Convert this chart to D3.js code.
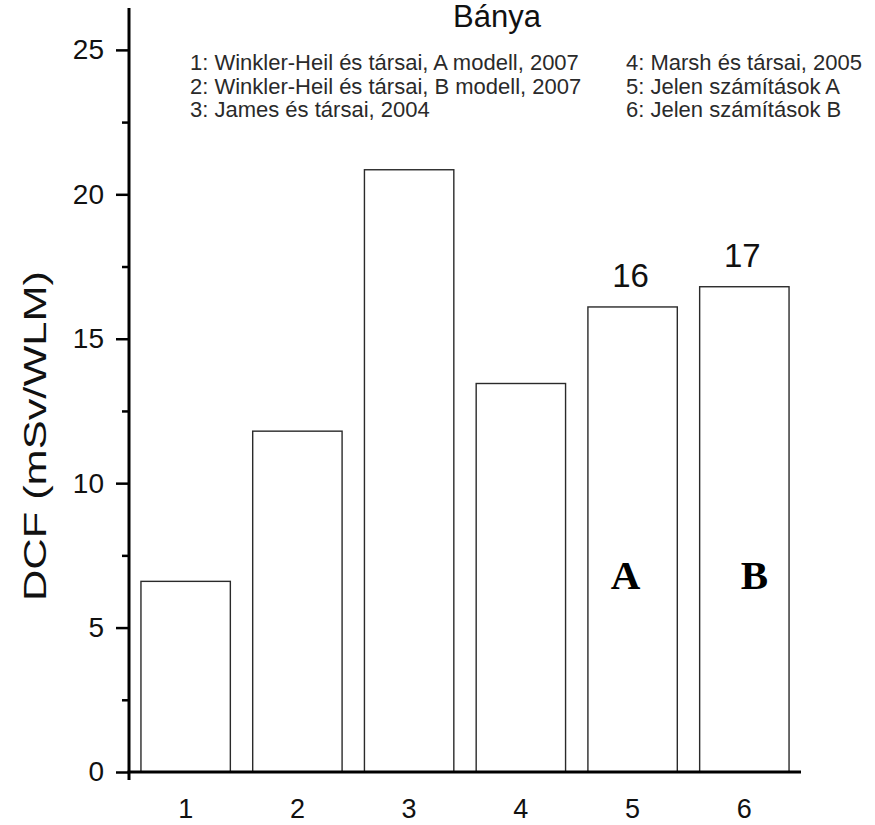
<!DOCTYPE html>
<html>
<head>
<meta charset="utf-8">
<script src="https://cdn.jsdelivr.net/npm/d3@7"></script>
<style>
  html, body { margin: 0; padding: 0; background: #fff; }
  svg { display: block; font-family: "Liberation Sans", Arial, sans-serif; }
</style>
</head>
<body>
<svg id="chart" width="875" height="825"></svg>
<script>
// Dose conversion factors for mine conditions
const categories = ["1", "2", "3", "4", "5", "6"];
const dcfValues = [6.6, 11.8, 20.85, 13.45, 16.1, 16.8];
const labelledBars = ["5", "6"];           // bars that carry a value label
const barLetters = [{ cat: "5", text: "A", dx: -7 }, { cat: "6", text: "B", dx: 10 }];
const majorTicks = [0, 5, 10, 15, 20, 25];
const minorTicks = [2.5, 7.5, 12.5, 17.5, 22.5];
const legendCol1 = [
  "1: Winkler-Heil és társai, A modell, 2007",
  "2: Winkler-Heil és társai, B modell, 2007",
  "3: James és társai, 2004"
];
const legendCol2 = [
  "4: Marsh és társai, 2005",
  "5: Jelen számítások A",
  "6: Jelen számítások B"
];
const title = "Bánya";
const yTitle = "DCF (mSv/WLM)";

const svg = d3.select("#chart");
const plot = { left: 129, right: 801, top: 8, bottom: 772 };

const x = d3.scaleBand()
  .domain(categories)
  .range([plot.left, plot.right])
  .paddingInner(0.2)
  .paddingOuter(0.107);

const y = d3.scaleLinear()
  .domain([0, 26.45])
  .range([plot.bottom, plot.top]);

const rows = categories.map((c, i) => ({ cat: c, v: dcfValues[i] }));

// Bars
svg.append("g")
  .selectAll("rect")
  .data(rows)
  .join("rect")
  .attr("x", d => x(d.cat))
  .attr("y", d => y(d.v))
  .attr("width", x.bandwidth())
  .attr("height", d => y(0) - y(d.v))
  .attr("fill", "#fff")
  .attr("stroke", "#2a2a2a")
  .attr("stroke-width", 1.4);

// Value labels above bars 5 and 6
const fmt = d3.format(".0f");
svg.append("g")
  .selectAll("text")
  .data(rows.filter(d => labelledBars.includes(d.cat)))
  .join("text")
  .attr("x", d => x(d.cat) + x.bandwidth() / 2 - 2)
  .attr("y", d => y(d.v) - 20)
  .attr("text-anchor", "middle")
  .attr("font-size", 33)
  .attr("fill", "#111")
  .text(d => fmt(d.v));

// Letters inside bars 5 and 6
svg.append("g")
  .selectAll("text")
  .data(barLetters)
  .join("text")
  .attr("x", d => x(d.cat) + x.bandwidth() / 2 + d.dx)
  .attr("y", y(6.35))
  .attr("text-anchor", "middle")
  .attr("font-family", "'Liberation Serif', 'Times New Roman', serif")
  .attr("font-weight", "bold")
  .attr("font-size", 41)
  .attr("fill", "#000")
  .text(d => d.text);

// Y axis: major and minor ticks
const yAxis = svg.append("g").attr("transform", `translate(${plot.left},0)`);
yAxis.call(d3.axisLeft(y).tickValues(majorTicks).tickSize(13).tickPadding(12).tickFormat(d3.format("d")));
yAxis.select(".domain").remove();
yAxis.selectAll(".tick line").attr("stroke", "#000").attr("stroke-width", 2.5);
yAxis.selectAll(".tick text")
  .attr("font-size", 28)
  .attr("font-family", "'Liberation Sans', Arial, sans-serif")
  .attr("fill", "#111");

const yMinor = svg.append("g").attr("transform", `translate(${plot.left},0)`);
yMinor.call(d3.axisLeft(y).tickValues(minorTicks).tickSize(7).tickFormat(""));
yMinor.select(".domain").remove();
yMinor.selectAll(".tick line").attr("stroke", "#000").attr("stroke-width", 2.5);

// Axis lines
svg.append("line")
  .attr("x1", plot.left).attr("x2", plot.left)
  .attr("y1", y(0) + 8).attr("y2", y(26.45))
  .attr("stroke", "#000").attr("stroke-width", 3);

const xAxis = svg.append("g").attr("transform", `translate(0,${y(0)})`);
xAxis.call(d3.axisBottom(x).tickSize(0).tickPadding(27));
xAxis.select(".domain").remove();
xAxis.selectAll(".tick text")
  .attr("font-size", 27)
  .attr("font-family", "'Liberation Sans', Arial, sans-serif")
  .attr("fill", "#111");
svg.append("line")
  .attr("x1", plot.left - 1.5).attr("x2", plot.right)
  .attr("y1", y(0)).attr("y2", y(0))
  .attr("stroke", "#000").attr("stroke-width", 3);

// Title
svg.append("text")
  .attr("x", 497).attr("y", 27)
  .attr("text-anchor", "middle")
  .attr("font-size", 31)
  .attr("fill", "#111")
  .text(title);

// Legend (two columns)
const legend = svg.append("g").attr("font-size", 22).attr("fill", "#2a2a2a");
legend.selectAll("text.c1")
  .data(legendCol1)
  .join("text")
  .attr("class", "c1")
  .attr("x", 190)
  .attr("y", (d, i) => 70 + i * 23.5)
  .text(d => d);
legend.selectAll("text.c2")
  .data(legendCol2)
  .join("text")
  .attr("class", "c2")
  .attr("x", 626)
  .attr("y", (d, i) => 70 + i * 23.5)
  .text(d => d);

// Y axis title
svg.append("text")
  .attr("transform", "translate(46,436) rotate(-90)")
  .attr("text-anchor", "middle")
  .attr("font-size", 31)
  .attr("fill", "#111")
  .attr("textLength", 330)
  .attr("lengthAdjust", "spacingAndGlyphs")
  .text(yTitle);
</script>
</body>
</html>
